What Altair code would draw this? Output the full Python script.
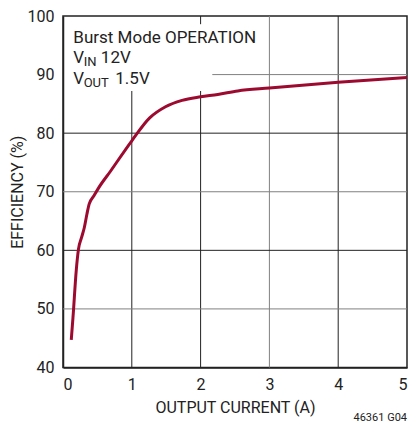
import altair as alt
import pandas as pd

# Efficiency curve
current = [0.12, 0.145, 0.192, 0.225, 0.27, 0.31, 0.348, 0.38, 0.45, 0.52, 0.69, 1.0, 1.26, 1.49, 1.73, 2.0, 2.25, 2.54, 3.0, 4.0, 5.0]
efficiency = [44.7, 48.5, 56.5, 60.2, 62.2, 63.9, 66.2, 67.9, 69.3, 70.7, 73.5, 78.7, 82.6, 84.5, 85.6, 86.2, 86.6, 87.2, 87.7, 88.7, 89.5]

x_ticks = [0, 1, 2, 3, 4, 5]
y_ticks = [40, 50, 60, 70, 80, 90, 100]

FONT = "Roboto, Liberation Sans, sans-serif"
DARK = "#222222"
GRAY = "#808080"
RED = "#9c0a30"

curve = pd.DataFrame({"x": current, "y": efficiency})

# grid segments (vertical then horizontal)
vgrid = pd.DataFrame({
    "x": [1, 2, 2, 3, 4],
    "y": [40, 40, 98.6, 40, 40],
    "y2": [87.2, 87.2, 100, 100, 100],
    "c": [DARK, DARK, DARK, GRAY, DARK],
})
hgrid = pd.DataFrame({
    "y": [50, 60, 70, 80, 90],
    "x": [0, 0, 0, 0, 2.17],
    "x2": [5, 5, 5, 5, 5],
    "c": [GRAY, DARK, GRAY, DARK, GRAY],
})

xs = alt.Scale(domain=[0, 5], nice=False)
ys = alt.Scale(domain=[40, 100], nice=False)

vrules = alt.Chart(vgrid).mark_rule(strokeWidth=1).encode(
    x=alt.X("x:Q", scale=xs), y=alt.Y("y:Q", scale=ys), y2="y2:Q",
    color=alt.Color("c:N", scale=None),
)
hrules = alt.Chart(hgrid).mark_rule(strokeWidth=1).encode(
    y=alt.Y("y:Q", scale=ys), x=alt.X("x:Q", scale=xs), x2="x2:Q",
    color=alt.Color("c:N", scale=None),
)

line = alt.Chart(curve).mark_line(color=RED, strokeWidth=3, interpolate="monotone").encode(
    x=alt.X("x:Q", scale=xs,
            axis=alt.Axis(values=x_ticks, title="OUTPUT CURRENT (A)", grid=False, ticks=False,
                          labelPadding=9, titlePadding=7, format="d")),
    y=alt.Y("y:Q", scale=ys,
            axis=alt.Axis(values=y_ticks, title="EFFICIENCY (%)", grid=False, ticks=False,
                          labelPadding=9, titlePadding=2, format="d")),
)

ann_main = pd.DataFrame({
    "x": [0.15, 0.15, 0.55, 0.15, 0.76],
    "y": [95.45, 92.0, 92.0, 88.4, 88.4],
    "t": ["Burst Mode OPERATION", "V", "12V", "V", "1.5V"],
})
ann_sub = pd.DataFrame({
    "x": [0.3, 0.3],
    "y": [91.45, 87.85],
    "t": ["IN", "OUT"],
})

txt = alt.Chart(ann_main).mark_text(align="left", baseline="alphabetic", font=FONT, fontSize=17, color=DARK).encode(
    x=alt.X("x:Q", scale=xs), y=alt.Y("y:Q", scale=ys), text="t:N")
sub = alt.Chart(ann_sub).mark_text(align="left", baseline="alphabetic", font=FONT, fontSize=13, color=DARK).encode(
    x=alt.X("x:Q", scale=xs), y=alt.Y("y:Q", scale=ys), text="t:N")

code = alt.Chart(pd.DataFrame({"t": ["46361 G04"]})).mark_text(
    align="right", baseline="alphabetic", font=FONT, fontSize=11, color=DARK
).encode(x=alt.value(344), y=alt.value(405), text="t:N")

chart = alt.layer(vrules, hrules, line, txt, sub, code).properties(
    width=344, height=351.5,
    background="white",
    autosize=alt.AutoSizeParams(type="none"),
    padding={"left": 55, "top": 8, "right": 1, "bottom": 57},
).configure_view(stroke=DARK, strokeWidth=1.5).configure_axis(
    labelFont=FONT, titleFont=FONT, labelFontSize=16, titleFontSize=16,
    labelColor=DARK, titleColor=DARK, titleFontWeight="normal",
    domainColor=DARK, domainWidth=1.5,
)

chart.save("out.html", embed_options={"renderer": "svg", "actions": False})
